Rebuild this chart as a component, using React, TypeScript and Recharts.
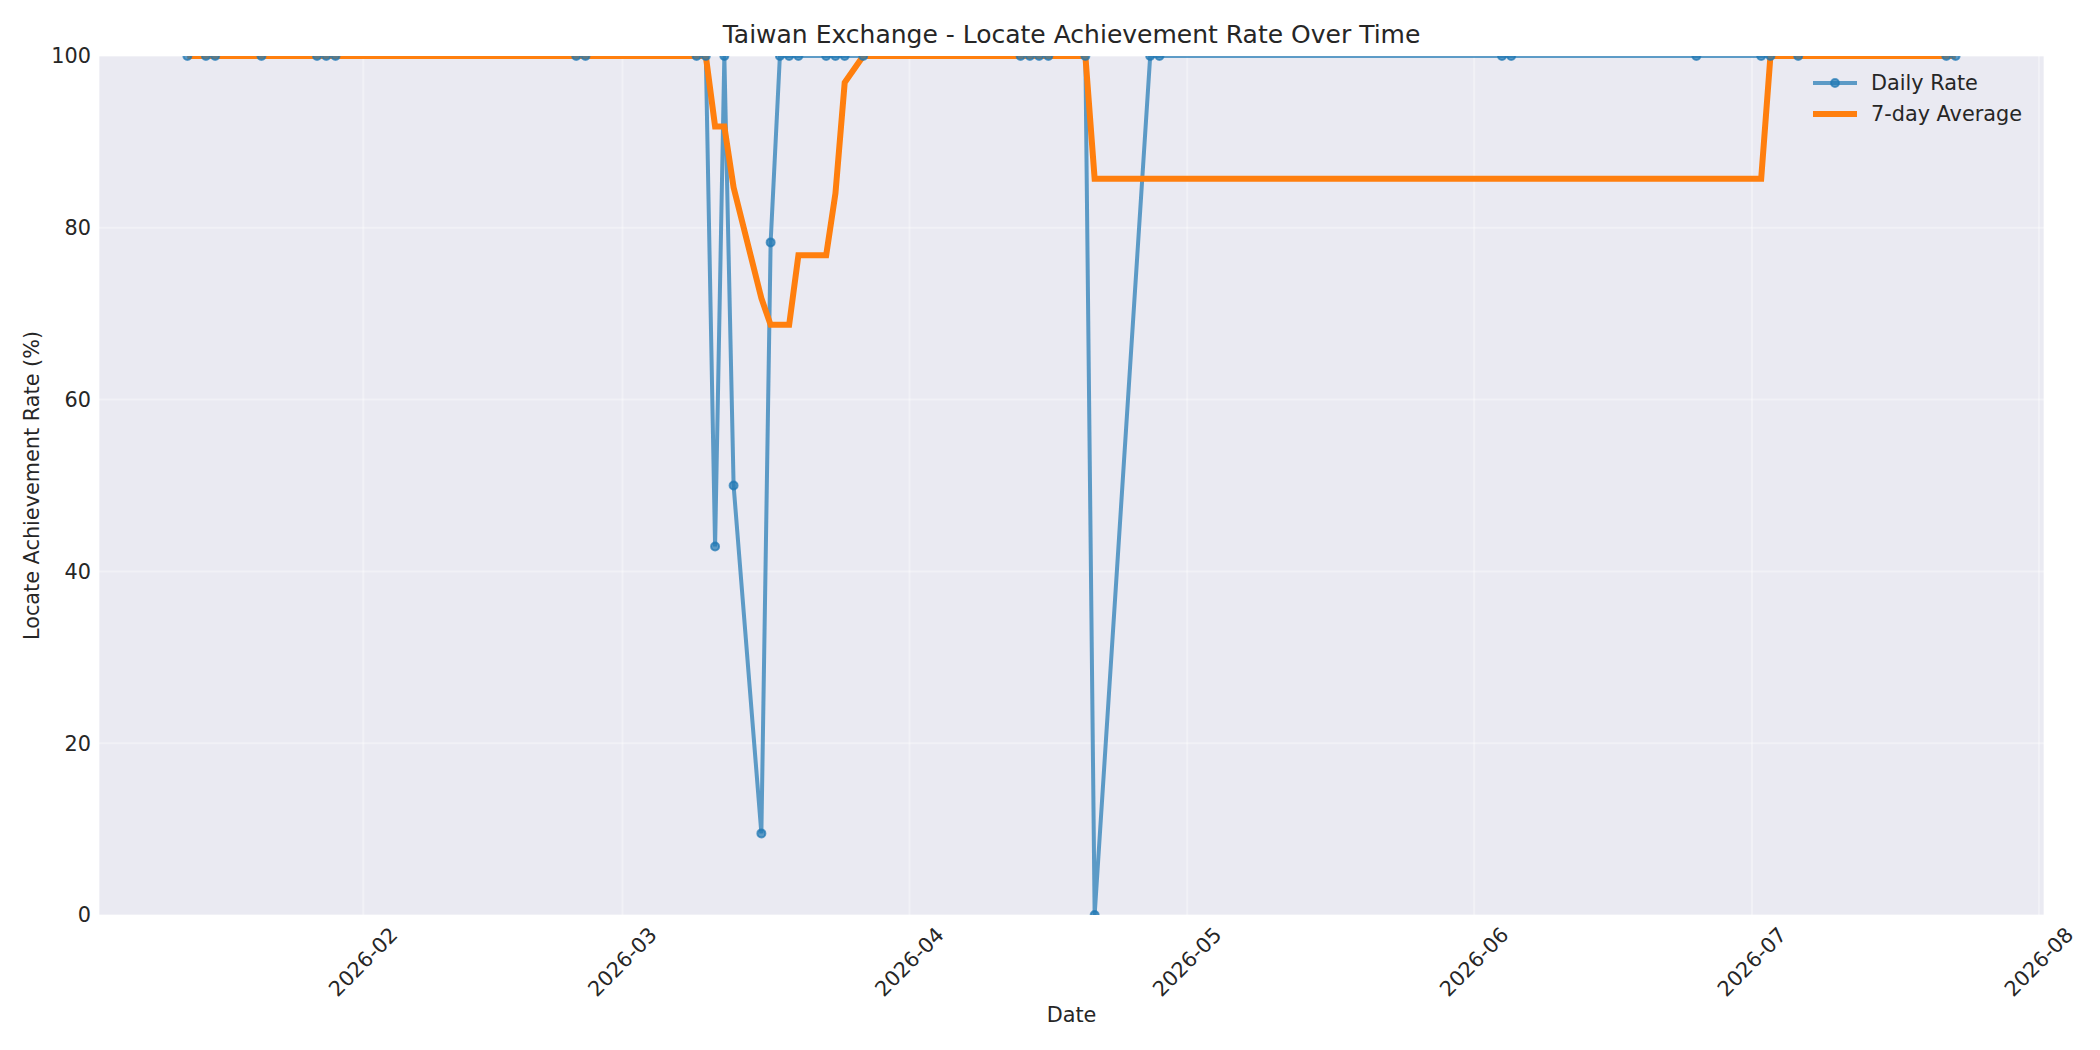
import React from 'react'
import { LineChart, Line, XAxis, YAxis, CartesianGrid, Label } from 'recharts'

// trading days with a locate result
const dates = [
  '2026-01-13', '2026-01-15', '2026-01-16', '2026-01-21', '2026-01-27', '2026-01-28', '2026-01-29',
  '2026-02-24', '2026-02-25',
  '2026-03-09', '2026-03-10', '2026-03-11', '2026-03-12', '2026-03-13', '2026-03-16', '2026-03-17',
  '2026-03-18', '2026-03-19', '2026-03-20', '2026-03-23', '2026-03-24', '2026-03-25', '2026-03-27',
  '2026-04-13', '2026-04-14', '2026-04-15', '2026-04-16', '2026-04-20', '2026-04-21', '2026-04-27',
  '2026-04-28',
  '2026-06-04', '2026-06-05', '2026-06-25',
  '2026-07-02', '2026-07-03', '2026-07-06', '2026-07-22', '2026-07-23',
]

const dailyRate = [
  100, 100, 100, 100, 100, 100, 100,
  100, 100,
  100, 100, 42.9, 100, 50, 9.5, 78.3,
  100, 100, 100, 100, 100, 100, 100,
  100, 100, 100, 100, 100, 0, 100,
  100,
  100, 100, 100,
  100, 100, 100, 100, 100,
]

const avg7 = [
  100, 100, 100, 100, 100, 100, 100,
  100, 100,
  100, 100, 91.8, 91.8, 84.7, 71.8, 68.7,
  68.7, 68.7, 76.8, 76.8, 84.0, 96.9, 100,
  100, 100, 100, 100, 100, 85.7, 85.7,
  85.7,
  85.7, 85.7, 85.7,
  85.7, 100, 100, 100, 100,
]

const monthTicks = ['2026-02-01', '2026-03-01', '2026-04-01', '2026-05-01', '2026-06-01', '2026-07-01', '2026-08-01']
const yTicks = [0, 20, 40, 60, 80, 100]

const toTs = (d: string) => Date.parse(d + 'T00:00:00Z')

const data = dates.map((d, i) => ({ ts: toTs(d), daily: dailyRate[i], avg: avg7[i] }))

const first = data[0].ts
const last = data[data.length - 1].ts
const pad = (last - first) * 0.05

const W = 2100
const H = 1050
const PLOT_LEFT = 99
const PLOT_RIGHT = 2044
const PLOT_TOP = 56
const PLOT_BOTTOM = 915

const BLUE = '#1f77b4'
const ORANGE = '#ff7f0e'
const TEXT = '#262626'
const FONT = '"DejaVu Sans", sans-serif'
const FS = 20.8

function monthLabel(ts: number) {
  const d = new Date(ts)
  return `${d.getUTCFullYear()}-${String(d.getUTCMonth() + 1).padStart(2, '0')}`
}

function DateTick(props: any) {
  const { x, payload } = props
  const cy = PLOT_BOTTOM + 47
  return (
    <text
      x={x}
      y={cy}
      transform={`rotate(-45 ${x} ${cy})`}
      textAnchor="middle"
      dominantBaseline="central"
      fontSize={FS}
      fontFamily={FONT}
      fill={TEXT}
    >
      {monthLabel(payload.value)}
    </text>
  )
}

function LegendRow({ label, color, width, marker }: { label: string; color: string; width: number; marker?: boolean }) {
  return (
    <div style={{ display: 'flex', alignItems: 'center', height: 31 }}>
      <svg width={46} height={20} style={{ marginRight: 13 }}>
        <line x1={1} y1={10} x2={45} y2={10} stroke={color} strokeOpacity={marker ? 0.7 : 1} strokeWidth={width} />
        {marker && <circle cx={23} cy={10} r={4} fill={color} fillOpacity={0.7} stroke={color} strokeOpacity={0.7} strokeWidth={2} />}
      </svg>
      <span>{label}</span>
    </div>
  )
}

export default function App() {
  return (
    <div style={{ position: 'absolute', left: 0, top: 0, width: W, height: H, background: '#fff', fontFamily: FONT, color: TEXT }}>
      <div
        style={{
          position: 'absolute',
          left: PLOT_LEFT,
          width: PLOT_RIGHT - PLOT_LEFT,
          top: 21,
          fontSize: 25,
          lineHeight: '28px',
          textAlign: 'center',
        }}
      >
        Taiwan Exchange - Locate Achievement Rate Over Time
      </div>

      <LineChart width={W} height={H} data={data} margin={{ top: PLOT_TOP, right: W - PLOT_RIGHT, bottom: 0, left: PLOT_LEFT - 80 }}>
        <CartesianGrid fill="#eaeaf2" stroke="#ffffff" strokeOpacity={0.35} strokeWidth={2} />
        <XAxis
          dataKey="ts"
          type="number"
          scale="linear"
          domain={[first - pad, last + pad]}
          ticks={monthTicks.map(toTs)}
          tick={<DateTick />}
          tickLine={false}
          axisLine={false}
          height={H - PLOT_BOTTOM}
          interval={0}
        >
          <Label
            content={(p: any) => (
              <text
                x={p.viewBox.x + p.viewBox.width / 2}
                y={1015}
                textAnchor="middle"
                dominantBaseline="central"
                fontSize={FS}
                fontFamily={FONT}
                fill={TEXT}
              >
                Date
              </text>
            )}
          />
        </XAxis>
        <YAxis
          type="number"
          domain={[0, 100]}
          ticks={yTicks}
          allowDataOverflow
          width={80}
          tickLine={false}
          axisLine={false}
          tick={{ fontSize: FS, fontFamily: FONT, fill: TEXT }}
        >
          <Label
            content={() => (
              <text
                x={32}
                y={(PLOT_TOP + PLOT_BOTTOM) / 2}
                transform={`rotate(-90 32 ${(PLOT_TOP + PLOT_BOTTOM) / 2})`}
                textAnchor="middle"
                dominantBaseline="central"
                fontSize={FS}
                fontFamily={FONT}
                fill={TEXT}
              >
                Locate Achievement Rate (%)
              </text>
            )}
          />
        </YAxis>
        <Line
          type="linear"
          dataKey="daily"
          name="Daily Rate"
          stroke={BLUE}
          strokeOpacity={0.7}
          strokeWidth={4}
          dot={{ r: 4, fill: BLUE, fillOpacity: 0.7, stroke: BLUE, strokeOpacity: 0.7, strokeWidth: 2 }}
          activeDot={false}
          isAnimationActive={false}
        />
        <Line
          type="linear"
          dataKey="avg"
          name="7-day Average"
          stroke={ORANGE}
          strokeWidth={6}
          dot={false}
          activeDot={false}
          isAnimationActive={false}
        />
      </LineChart>

      <div style={{ position: 'absolute', left: 1812, top: 67, fontSize: FS }}>
        <LegendRow label="Daily Rate" color={BLUE} width={4} marker />
        <LegendRow label="7-day Average" color={ORANGE} width={6} />
      </div>
    </div>
  )
}
